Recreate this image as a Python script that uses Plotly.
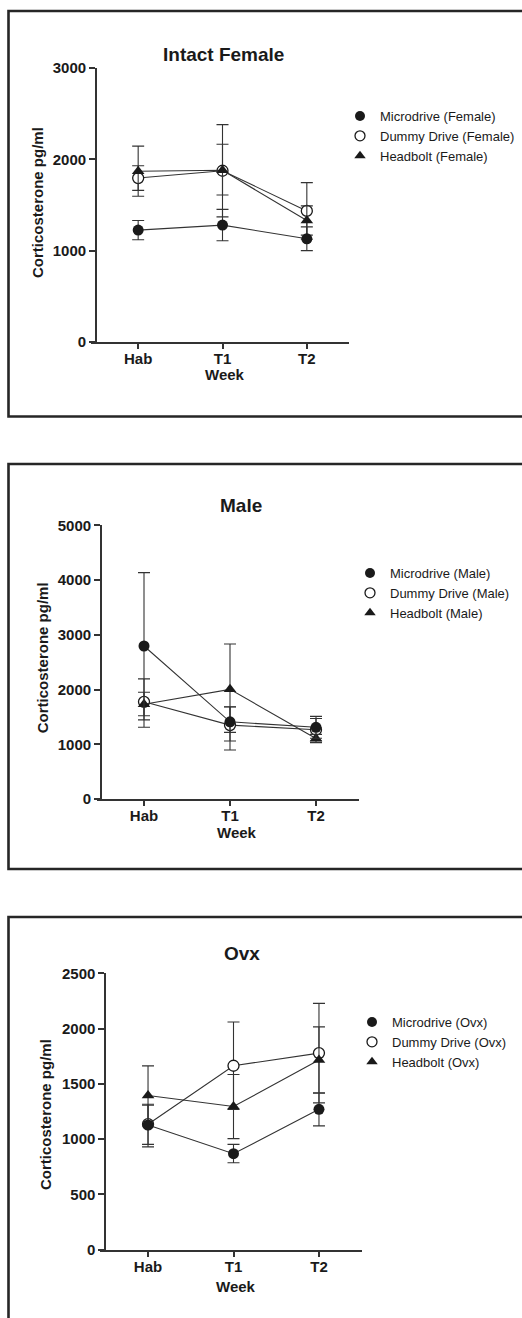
import plotly.graph_objects as go

W, H = 522, 1318

weeks = ["Hab", "T1", "T2"]

# ---- Intact Female ----
fem_micro = [1225, 1280, 1130]
fem_micro_plus = [105, 172, 130]
fem_micro_minus = [105, 172, 130]
fem_dummy = [1795, 1875, 1435]
fem_dummy_plus = [135, 505, 310]
fem_dummy_minus = [135, 505, 310]
fem_head = [1870, 1880, 1330]
fem_head_plus = [275, 285, 160]
fem_head_minus = [275, 270, 160]

# ---- Male ----
male_micro = [2795, 1410, 1310]
male_micro_plus = [1340, 275, 200]
male_micro_minus = [1350, 192, 200]
male_dummy = [1775, 1350, 1265]
male_dummy_plus = [420, 330, 205]
male_dummy_minus = [465, 455, 205]
male_head = [1730, 2003, 1105]
male_head_plus = [220, 828, 75]
male_head_minus = [210, 944, 75]

# ---- Ovx ----
ovx_micro = [1128, 868, 1270]
ovx_micro_plus = [178, 85, 150]
ovx_micro_minus = [175, 82, 150]
ovx_dummy = [1135, 1664, 1778]
ovx_dummy_plus = [180, 395, 450]
ovx_dummy_minus = [205, 395, 450]
ovx_head = [1395, 1295, 1715]
ovx_head_plus = [268, 290, 300]
ovx_head_minus = [268, 290, 300]

panels = [
    dict(title="Intact Female", tag="Female",
         micro=(fem_micro, fem_micro_plus, fem_micro_minus),
         dummy=(fem_dummy, fem_dummy_plus, fem_dummy_minus),
         head=(fem_head, fem_head_plus, fem_head_minus),
         ymax=3000, dtick=1000,
         xl=91, yaxis_x=96, xr=349, ybot=342, ytop=68,
         title_xy=(223, 55), ytitle_xy=(38, 203), week_xy=(225, 374),
         legend_xy=(340, 101)),
    dict(title="Male", tag="Male",
         micro=(male_micro, male_micro_plus, male_micro_minus),
         dummy=(male_dummy, male_dummy_plus, male_dummy_minus),
         head=(male_head, male_head_plus, male_head_minus),
         ymax=5000, dtick=1000,
         xl=96.7, yaxis_x=101, xr=359, ybot=799, ytop=525.3,
         title_xy=(240.7, 505), ytitle_xy=(42.3, 658), week_xy=(236.7, 832),
         legend_xy=(350, 558)),
    dict(title="Ovx", tag="Ovx",
         micro=(ovx_micro, ovx_micro_plus, ovx_micro_minus),
         dummy=(ovx_dummy, ovx_dummy_plus, ovx_dummy_minus),
         head=(ovx_head, ovx_head_plus, ovx_head_minus),
         ymax=2500, dtick=500,
         xl=100, yaxis_x=105.3, xr=361.7, ybot=1249.7, ytop=973.3,
         title_xy=(242.3, 953.3), ytitle_xy=(45, 1115), week_xy=(236.3, 1286),
         legend_xy=(352, 1007)),
]

FONT = "Liberation Sans, Arial, Helvetica, sans-serif"
INK = "#1a1a1a"
LINE = "#333333"


def px(xp):
    return xp / W


def py(yp):
    return 1 - yp / H


fig = go.Figure()
layout = dict(
    template="none",
    width=W, height=H, margin=dict(l=0, r=0, t=0, b=0, pad=0, autoexpand=False),
    paper_bgcolor="white", plot_bgcolor="white", showlegend=True,
    font=dict(family=FONT, color=INK),
    annotations=[], shapes=[],
)

styles = {
    "micro": dict(symbol="circle", color=INK, line=dict(width=0, color=INK), size=11),
    "dummy": dict(symbol="circle", color="white", line=dict(width=1.3, color=INK), size=11),
    "head": dict(symbol="triangle-up", color=INK, line=dict(width=0, color=INK), size=11),
}
names = {"micro": "Microdrive", "dummy": "Dummy Drive", "head": "Headbolt"}

for i, p in enumerate(panels, start=1):
    xa = "x" if i == 1 else f"x{i}"
    ya = "y" if i == 1 else f"y{i}"
    lg = "legend" if i == 1 else f"legend{i}"

    # data traces (draw order: dummy, headbolt, microdrive)
    for key in ["dummy", "head", "micro"]:
        vals, plus, minus = p[key]
        fig.add_trace(go.Scatter(
            x=weeks, y=vals, mode="lines+markers", xaxis=xa, yaxis=ya,
            line=dict(color=LINE, width=1.1),
            marker=styles[key],
            error_y=dict(type="data", symmetric=False, array=plus, arrayminus=minus,
                         color=LINE, thickness=1.1, width=6),
            showlegend=False, cliponaxis=False,
            name=f"{names[key]} ({p['tag']})",
        ))
    # legend entries (markers only)
    for key in ["micro", "dummy", "head"]:
        fig.add_trace(go.Scatter(
            x=[None], y=[None], mode="markers", xaxis=xa, yaxis=ya,
            marker=dict(styles[key], size=10),
            name=f"{names[key]} ({p['tag']})", legend=lg, showlegend=True,
        ))

    unit = (p["xr"] - p["yaxis_x"]) / 3.0
    x0 = -0.5 - (p["yaxis_x"] - p["xl"]) / unit
    axis_common = dict(showgrid=False, zeroline=False, showline=True, automargin=False,
                       linecolor=LINE, linewidth=1.8, ticks="outside",
                       tickcolor=LINE, tickwidth=1.6,
                       tickfont=dict(family=FONT, size=15, color=INK, weight="bold"))
    layout["xaxis" if i == 1 else f"xaxis{i}"] = dict(
        axis_common, domain=[px(p["xl"]), px(p["xr"])], range=[x0, 2.5],
        anchor=ya, type="category", ticklen=5, ticklabelstandoff=-3, fixedrange=True)
    layout["yaxis" if i == 1 else f"yaxis{i}"] = dict(
        axis_common, domain=[py(p["ybot"]), py(p["ytop"])], range=[0, p["ymax"]],
        anchor="free", position=px(p["yaxis_x"]), dtick=p["dtick"], tick0=0,
        tickformat="d", ticklen=6, fixedrange=True)

    lx, ly = p["legend_xy"]
    layout[lg] = dict(x=px(lx), y=py(ly), xanchor="left", yanchor="top",
                      bgcolor="rgba(0,0,0,0)", borderwidth=0, tracegroupgap=0,
                      font=dict(family=FONT, size=13, color=INK), itemclick=False)

    tx, ty = p["title_xy"]
    layout["annotations"].append(dict(
        text=p["title"], x=px(tx), y=py(ty), xref="paper", yref="paper",
        xanchor="center", yanchor="middle", showarrow=False,
        font=dict(family=FONT, size=19, color=INK, weight="bold")))
    yx, yy = p["ytitle_xy"]
    layout["annotations"].append(dict(
        text="Corticosterone pg/ml", x=px(yx), y=py(yy), xref="paper", yref="paper",
        xanchor="center", yanchor="middle", showarrow=False, textangle=-90,
        font=dict(family=FONT, size=15, color=INK, weight="bold")))
    wx, wy = p["week_xy"]
    layout["annotations"].append(dict(
        text="Week", x=px(wx), y=py(wy), xref="paper", yref="paper",
        xanchor="center", yanchor="middle", showarrow=False,
        font=dict(family=FONT, size=15, color=INK, weight="bold")))

# panel frames
frames = [(11, 416.5), (464, 869), (917, 1330)]
for top, bot in frames:
    layout["shapes"].append(dict(
        type="rect", xref="paper", yref="paper",
        x0=px(8.5), x1=px(540), y0=py(bot), y1=py(top),
        line=dict(color="#262626", width=2.6), fillcolor="rgba(0,0,0,0)", layer="below"))

fig.update_layout(layout)
fig.write_html(
    "out.html",
    config={"displayModeBar": False},
    post_script="document.body.style.margin='0px';"
                "document.documentElement.style.overflow='hidden';"
                "document.body.style.overflow='hidden';",
)
